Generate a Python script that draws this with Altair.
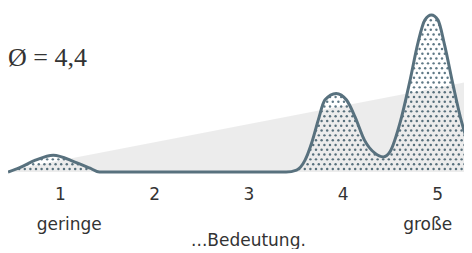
import altair as alt
import numpy as np
import pandas as pd

# density curve
curve_x = [0.45, 0.58, 0.74, 0.93, 1.16, 1.32, 1.42, 2.4, 3.40, 3.51, 3.60, 3.67, 3.74,
           3.81, 3.93, 4.04, 4.13, 4.23, 4.34, 4.43, 4.50, 4.61, 4.71, 4.80, 4.87, 4.94,
           5.01, 5.08, 5.17, 5.26, 5.37, 5.45, 5.55, 5.65]
curve_y = [0.0, 0.03, 0.076, 0.108, 0.064, 0.025, 0.0, 0.0, 0.0, 0.013, 0.076, 0.185, 0.331,
           0.459, 0.501, 0.459, 0.352, 0.204, 0.121, 0.097, 0.129, 0.320, 0.575, 0.830, 0.968,
           1.0, 0.968, 0.809, 0.554, 0.320, 0.129, 0.05, 0.015, 0.0]

# background wedge (low -> high importance)
wedge_x = [0.36, 5.37]
wedge_y = [0.0, 0.58]

tick_values = [1, 2, 3, 4, 5]
mean_label = "Ø = 4,4"
low_label = "geringe"
high_label = "große"
axis_title = "...Bedeutung."

W, H = 456, 166
X_DOMAIN = [0.45, 0.45 + W / 94.3]
Y_DOMAIN = [-0.012, 1.045]
STROKE = "#58717e"
TEXT = "#333333"
FONT = "DejaVu Sans"
FS = 17

curve = pd.DataFrame({"x": curve_x, "y": curve_y})
wedge = pd.DataFrame({"x": wedge_x, "y": wedge_y})

# dotted fill pattern (decorative texture, masked by the curve)
dx = 5.6 / (W / (X_DOMAIN[1] - X_DOMAIN[0]))
dy = 4.8 / (H / (Y_DOMAIN[1] - Y_DOMAIN[0]))
px, py = [], []
for i, yy in enumerate(np.arange(0.02, 1.0, dy)):
    for xx in np.arange(X_DOMAIN[0] + (i % 2) * dx / 2, 5.6, dx):
        if 1.45 < xx < 3.4:
            continue
        if xx <= 1.45 and yy > 0.12:
            continue
        px.append(xx)
        py.append(yy)
pattern = pd.DataFrame({"x": px, "y": py})

xs = alt.Scale(domain=X_DOMAIN, nice=False, zero=False)
ys = alt.Scale(domain=Y_DOMAIN, nice=False, zero=False)

xenc = alt.X("x:Q", scale=xs, axis=alt.Axis(
    values=tick_values, format="d", title=None, domain=False, ticks=False, tickSize=0,
    grid=False, labelFont=FONT, labelFontSize=FS, labelColor=TEXT, labelPadding=25,
    labelBaseline="alphabetic", labelFlush=False))
yenc = alt.Y("y:Q", scale=ys, axis=None)

dots = alt.Chart(pattern).mark_circle(size=6, color="#5f7986", opacity=1, clip=True).encode(
    x=xenc, y=yenc)

mask = alt.Chart(curve).mark_area(color="white", interpolate="monotone", clip=True).encode(
    x=xenc, y=yenc, y2=alt.Y2(datum=Y_DOMAIN[1]))

wedge_layer = alt.Chart(wedge).mark_area(color="#000000", opacity=0.075, clip=True).encode(
    x=xenc, y=yenc)

line = alt.Chart(curve).mark_line(color=STROKE, strokeWidth=3, interpolate="monotone",
                                  clip=True).encode(x=xenc, y=yenc)

mean_text = alt.Chart(pd.DataFrame({"t": [mean_label]})).mark_text(
    font="Liberation Serif", fontSize=26, color=TEXT, align="left", baseline="alphabetic"
).encode(x=alt.value(0), y=alt.value(58), text="t:N")

ann = pd.DataFrame({"x": [1.1, 4.9], "t": [low_label, high_label]})
ann_text = alt.Chart(ann).mark_text(
    font=FONT, fontSize=FS, color=TEXT, align="center", baseline="alphabetic"
).encode(x=alt.X("x:Q", scale=xs), y=alt.value(222), text="t:N")

title_text = alt.Chart(pd.DataFrame({"x": [3.0], "t": [axis_title]})).mark_text(
    font=FONT, fontSize=FS, color=TEXT, align="center", baseline="alphabetic"
).encode(x=alt.X("x:Q", scale=xs), y=alt.value(238), text="t:N")

chart = alt.layer(dots, mask, wedge_layer, line, mean_text, ann_text, title_text).properties(
    width=W, height=H, padding=0
).configure_view(stroke=None)

chart.save("out.html", embed_options={"renderer": "svg", "actions": False})
